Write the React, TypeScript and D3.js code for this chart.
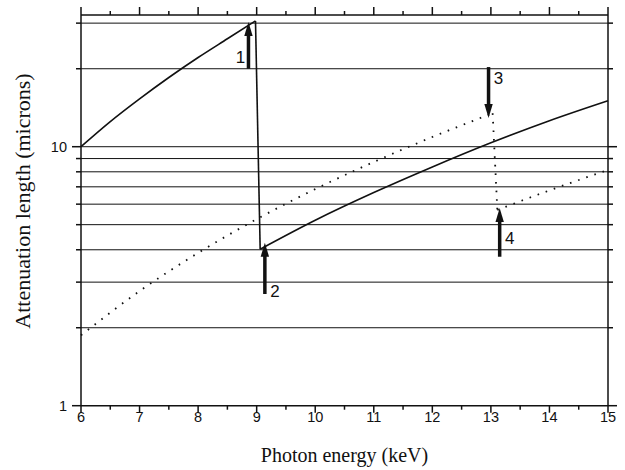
import React, { useEffect, useRef } from 'react'
import * as d3 from 'd3'

// solid curve: photon energy (keV) -> attenuation length (microns), edge near 9 keV
const solidEnergy = [6, 6.5, 7, 7.5, 8, 8.5, 8.98, 9.06, 10, 11, 12, 13, 14, 15]
const solidLength = [10, 12.5, 15.3, 18.5, 22.1, 26.1, 30.6, 4.02, 5.2, 6.65, 8.35, 10.35, 12.6, 15.05]

// dotted curve, edge near 13 keV
const dottedEnergy = [6, 7, 8, 9, 10, 11, 12, 13.03, 13.11, 14, 15]
const dottedLength = [1.87, 2.77, 3.89, 5.25, 6.86, 8.73, 10.9, 13.46, 5.7, 6.78, 8.13]

const xTicks = [6, 7, 8, 9, 10, 11, 12, 13, 14, 15]
const xMinorTicks = [6.5, 7.5, 8.5, 9.5, 10.5, 11.5, 12.5, 13.5, 14.5]
const yGrid = [2, 3, 4, 5, 6, 7, 8, 9, 10, 20, 30]
const yMajor = [1, 10]

// numbered arrows: energy, tail value, tip value, label value
const arrowLabels = ['1', '2', '3', '4']
const arrowEnergy = [8.86, 9.14, 12.96, 13.15]
const arrowFrom = [20, 2.7, 20.3, 3.76]
const arrowTo = [30.3, 4.26, 12.9, 5.8]
const arrowLabelAt = [22.2, 2.78, 18.4, 4.46]

const W = 625
const H = 470

type Pt = [number, number]

// split a series where the value drops (absorption edge)
function splitAtEdge(pts: Pt[]): Pt[][] {
  const out: Pt[][] = [[pts[0]]]
  for (let i = 1; i < pts.length; i++) {
    if (pts[i][1] < pts[i - 1][1]) out.push([])
    out[out.length - 1].push(pts[i])
  }
  return out
}

export default function App() {
  const ref = useRef<SVGSVGElement>(null)

  useEffect(() => {
    if (!ref.current) return
    const svg = d3.select(ref.current)
    svg.selectAll('*').remove()

    const left = 81, right = 608, top = 15, bottom = 405.7
    const x = d3.scaleLinear().domain([6, 15]).range([left, right])
    const y = d3.scaleLog().domain([1, 32.25]).range([bottom, top])

    const sans = "'Liberation Sans', Arial, Helvetica, sans-serif"
    const serif = "'Liberation Serif', 'Times New Roman', serif"

    // horizontal grid lines
    svg.append('g')
      .selectAll('line')
      .data(yGrid)
      .enter()
      .append('line')
      .attr('x1', left)
      .attr('x2', right)
      .attr('y1', (d) => y(d))
      .attr('y2', (d) => y(d))
      .attr('stroke', '#111')
      .attr('stroke-width', 1)

    // axes
    const axisG = svg.append('g').attr('stroke', '#111').attr('stroke-width', 1.5)
    axisG.append('line').attr('x1', left).attr('x2', right).attr('y1', top).attr('y2', top)
    axisG.append('line').attr('x1', left).attr('x2', right).attr('y1', bottom).attr('y2', bottom)
    axisG.append('line').attr('x1', left).attr('x2', left).attr('y1', top).attr('y2', bottom)
    axisG.append('line').attr('x1', right).attr('x2', right).attr('y1', top).attr('y2', bottom)

    // x ticks, bottom and top
    xTicks.forEach((t) => {
      axisG.append('line').attr('x1', x(t)).attr('x2', x(t)).attr('y1', bottom).attr('y2', bottom + 7)
      axisG.append('line').attr('x1', x(t)).attr('x2', x(t)).attr('y1', top).attr('y2', top - 8)
    })
    xMinorTicks.forEach((t) => {
      axisG.append('line').attr('x1', x(t)).attr('x2', x(t)).attr('y1', bottom).attr('y2', bottom + 4)
      axisG.append('line').attr('x1', x(t)).attr('x2', x(t)).attr('y1', top).attr('y2', top - 4)
    })

    // y ticks, left and right
    yGrid.concat([1]).forEach((v) => {
      const len = yMajor.includes(v) ? 9 : 5
      axisG.append('line').attr('x1', left).attr('x2', left - len).attr('y1', y(v)).attr('y2', y(v))
      axisG.append('line').attr('x1', right).attr('x2', right + len).attr('y1', y(v)).attr('y2', y(v))
    })

    // tick labels
    svg.append('g')
      .selectAll('text')
      .data(xTicks)
      .enter()
      .append('text')
      .attr('x', (d) => x(d))
      .attr('y', bottom + 16.5)
      .attr('text-anchor', 'middle')
      .attr('font-family', sans)
      .attr('font-size', 14.5)
      .attr('fill', '#111')
      .text((d) => d)

    svg.append('g')
      .selectAll('text')
      .data(yMajor)
      .enter()
      .append('text')
      .attr('x', left - 14)
      .attr('y', (d) => y(d) + 5)
      .attr('text-anchor', 'end')
      .attr('font-family', sans)
      .attr('font-size', 14.5)
      .attr('fill', '#111')
      .text((d) => d)

    // axis titles
    svg.append('text')
      .attr('x', (left + right) / 2)
      .attr('y', 462)
      .attr('text-anchor', 'middle')
      .attr('font-family', serif)
      .attr('font-size', 20)
      .attr('fill', '#111')
      .text('Photon energy (keV)')

    svg.append('text')
      .attr('transform', `translate(30,201) rotate(-90)`)
      .attr('text-anchor', 'middle')
      .attr('font-family', serif)
      .attr('font-size', 22)
      .attr('fill', '#111')
      .text('Attenuation length (microns)')

    // curves: smooth pieces joined by straight edge drops
    const smooth = d3.line<Pt>()
      .x((d) => x(d[0]))
      .y((d) => y(d[1]))
      .curve(d3.curveMonotoneX)
    const straight = d3.line<Pt>()
      .x((d) => x(d[0]))
      .y((d) => y(d[1]))

    const drawSeries = (energy: number[], length: number[], dash: string | null, width: number) => {
      const pts = energy.map((e, i) => [e, length[i]] as Pt)
      const pieces = splitAtEdge(pts)
      const g = svg.append('g')
        .attr('fill', 'none')
        .attr('stroke', '#111')
        .attr('stroke-width', width)
      if (dash) g.attr('stroke-dasharray', dash)
      pieces.forEach((p, k) => {
        g.append('path').attr('d', smooth(p))
        if (k < pieces.length - 1) {
          g.append('path').attr('d', straight([p[p.length - 1], pieces[k + 1][0]]))
        }
      })
    }

    drawSeries(solidEnergy, solidLength, null, 1.6)
    drawSeries(dottedEnergy, dottedLength, '1.6 7', 1.8)

    // arrows
    const arrows = svg.append('g')
    arrowLabels.forEach((lab, i) => {
      const ax = x(arrowEnergy[i])
      const y0 = y(arrowFrom[i])
      const y1 = y(arrowTo[i])
      const dir = y1 < y0 ? 1 : -1
      const headLen = 14
      arrows.append('line')
        .attr('x1', ax).attr('x2', ax)
        .attr('y1', y0).attr('y2', y1 + dir * headLen * 0.8)
        .attr('stroke', '#111')
        .attr('stroke-width', 3.5)
      arrows.append('path')
        .attr('d', `M${ax},${y1} L${ax - 4.2},${y1 + dir * headLen} L${ax + 4.2},${y1 + dir * headLen} Z`)
        .attr('fill', '#111')
      arrows.append('text')
        .attr('x', ax + (i === 0 ? -8 : 10))
        .attr('y', y(arrowLabelAt[i]) + 6)
        .attr('text-anchor', 'middle')
        .attr('font-family', sans)
        .attr('font-size', 17)
        .attr('fill', '#111')
        .text(lab)
    })
  }, [])

  return (
    <svg
      ref={ref}
      width={W}
      height={H}
      style={{ position: 'absolute', left: 0, top: 0, background: '#fff' }}
    />
  )
}
